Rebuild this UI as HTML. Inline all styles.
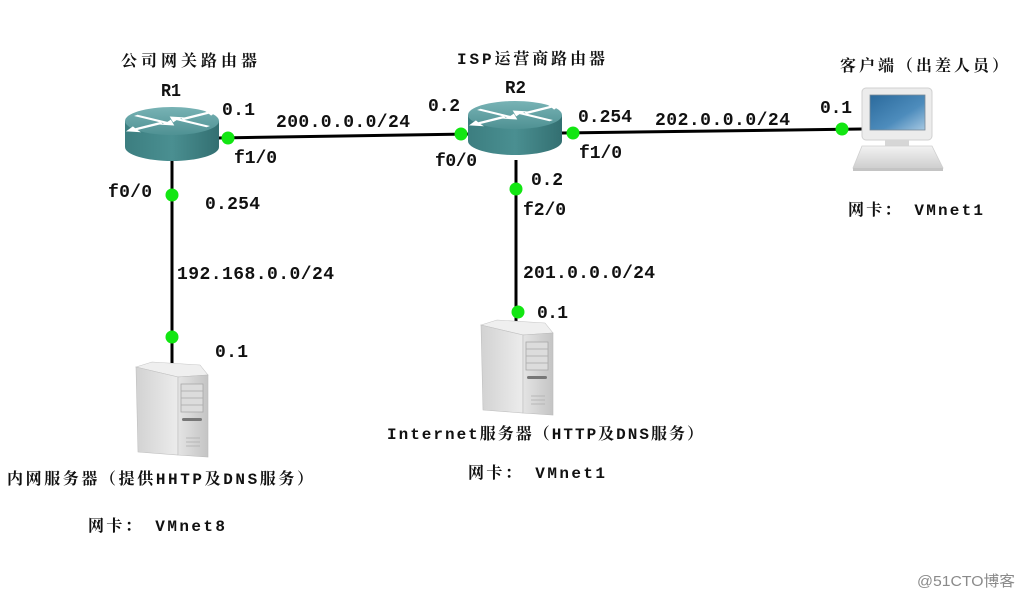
<!DOCTYPE html>
<html>
<head>
<meta charset="utf-8">
<style>
html,body{margin:0;padding:0;background:#fff;}
svg{display:block;}
.m{font-family:"Liberation Mono","Noto Serif CJK SC",monospace;font-size:18px;font-weight:bold;fill:#111;}
.c{font-family:"Liberation Mono","Noto Serif CJK SC",serif;font-size:16px;font-weight:bold;fill:#111;}
.w{font-family:"Liberation Sans","Noto Sans CJK SC",sans-serif;font-size:15px;fill:#8a8a8a;}
</style>
</head>
<body>
<svg width="1024" height="598" viewBox="0 0 1024 598" xmlns="http://www.w3.org/2000/svg">
<defs>
  <linearGradient id="rtop" x1="0" y1="0" x2="0" y2="1">
    <stop offset="0" stop-color="#78b3b5"/>
    <stop offset="1" stop-color="#4f9193"/>
  </linearGradient>
  <linearGradient id="rbody" x1="0" y1="0" x2="1" y2="0">
    <stop offset="0" stop-color="#3c7e80"/>
    <stop offset="0.5" stop-color="#4a8f91"/>
    <stop offset="1" stop-color="#336f71"/>
  </linearGradient>
  <linearGradient id="sside" x1="0" y1="0" x2="1" y2="0">
    <stop offset="0" stop-color="#d2d2d2"/>
    <stop offset="1" stop-color="#ececec"/>
  </linearGradient>
  <linearGradient id="sfront" x1="0" y1="0" x2="1" y2="0">
    <stop offset="0" stop-color="#e4e4e4"/>
    <stop offset="1" stop-color="#c4c4c4"/>
  </linearGradient>
  <linearGradient id="scr" x1="0" y1="0" x2="1" y2="1">
    <stop offset="0" stop-color="#2b6a9c"/>
    <stop offset="0.6" stop-color="#4d8cbc"/>
    <stop offset="1" stop-color="#a6c8e2"/>
  </linearGradient>
  <linearGradient id="pcbase" x1="0" y1="0" x2="0" y2="1">
    <stop offset="0" stop-color="#f2f2f2"/>
    <stop offset="1" stop-color="#cfcfcf"/>
  </linearGradient>
  <g id="router">
    <path d="M-47,0 L-47,26 A47,14 0 0 0 47,26 L47,0 Z" fill="url(#rbody)"/>
    <ellipse cx="0" cy="0" rx="47" ry="14" fill="url(#rtop)"/>
    <g transform="scale(1.15,0.45)" fill="#fff" stroke="none">
      <path d="M-30,-14 L-4,2 L-1,-3 L2,10 L-11,8 L-7,5 L-33,-11 Z"/>
      <path d="M30,14 L4,-2 L1,3 L-2,-10 L11,-8 L7,-5 L33,11 Z"/>
      <path d="M8,-6 L30,-20 L27,-25 L40,-23 L34,-12 L32,-16 L10,-2 Z"/>
      <path d="M-8,6 L-30,20 L-27,25 L-40,23 L-34,12 L-32,16 L-10,2 Z"/>
    </g>
  </g>
  <g id="server">
    <path d="M0,5 L16,0 L64,3 L72,13 L72,95 L42,93 L2,90 Z" fill="#d8d8d8"/>
    <path d="M0,5 L16,0 L64,3 L72,13 L42,15 Z" fill="#efefef" stroke="#c8c8c8" stroke-width="0.6"/>
    <path d="M0,5 L42,15 L42,93 L2,90 Z" fill="url(#sside)" stroke="#c0c0c0" stroke-width="0.6"/>
    <path d="M42,15 L72,13 L72,95 L42,93 Z" fill="url(#sfront)" stroke="#bcbcbc" stroke-width="0.6"/>
    <g stroke="#a8a8a8" stroke-width="0.8" fill="#dcdcdc">
      <rect x="45" y="22" width="22" height="28"/>
      <line x1="45" y1="29" x2="67" y2="29"/>
      <line x1="45" y1="36" x2="67" y2="36"/>
      <line x1="45" y1="43" x2="67" y2="43"/>
    </g>
    <rect x="46" y="56" width="20" height="3" rx="1.5" fill="#777"/>
    <g stroke="#b0b0b0" stroke-width="0.8">
      <line x1="50" y1="76" x2="64" y2="76"/>
      <line x1="50" y1="80" x2="64" y2="80"/>
      <line x1="50" y1="84" x2="64" y2="84"/>
    </g>
  </g>
</defs>

<!-- connectors -->
<g stroke="#000" stroke-width="3" fill="none">
  <line x1="218" y1="138" x2="470" y2="134"/>
  <line x1="562" y1="133" x2="862" y2="129"/>
  <line x1="172" y1="158" x2="172" y2="366"/>
  <line x1="516" y1="160" x2="516" y2="324"/>
</g>

<!-- routers -->
<use href="#router" x="172" y="121"/>
<use href="#router" x="515" y="115"/>

<!-- servers -->
<use href="#server" x="136" y="362"/>
<use href="#server" x="481" y="320"/>

<!-- PC -->
<g>
  <rect x="862" y="88" width="70" height="52" rx="4" fill="#ececec" stroke="#d0d0d0" stroke-width="1"/>
  <rect x="870" y="95" width="55" height="35" fill="url(#scr)" stroke="#7a8a96" stroke-width="0.8"/>
  <rect x="885" y="140" width="24" height="6" fill="#d6d6d6"/>
  <path d="M862,146 L932,146 L943,168 L853,168 Z" fill="url(#pcbase)" stroke="#cfcfcf" stroke-width="0.8"/>
  <path d="M853,168 L943,168 L943,171 L853,171 Z" fill="#c4c4c4"/>
</g>

<!-- green dots -->
<g fill="#12e612">
  <circle cx="228" cy="138" r="6.5"/>
  <circle cx="461" cy="134" r="6.5"/>
  <circle cx="573" cy="133" r="6.5"/>
  <circle cx="842" cy="129" r="6.5"/>
  <circle cx="172" cy="195" r="6.5"/>
  <circle cx="172" cy="337" r="6.5"/>
  <circle cx="516" cy="189" r="6.5"/>
  <circle cx="518" cy="312" r="6.5"/>
</g>

<!-- labels -->
<text class="c" x="121" y="66" textLength="136" lengthAdjust="spacing">公司网关路由器</text>
<text class="m" x="161" y="96" textLength="20" lengthAdjust="spacingAndGlyphs">R1</text>
<text class="m" x="222" y="115" textLength="33" lengthAdjust="spacing">0.1</text>
<text class="m" x="276" y="127" textLength="134" lengthAdjust="spacing">200.0.0.0/24</text>
<text class="m" x="234" y="163" textLength="43" lengthAdjust="spacing">f1/0</text>
<text class="m" x="108" y="197" textLength="44" lengthAdjust="spacing">f0/0</text>
<text class="m" x="205" y="209" textLength="55" lengthAdjust="spacing">0.254</text>
<text class="m" x="177" y="279" textLength="157" lengthAdjust="spacing">192.168.0.0/24</text>
<text class="m" x="215" y="357" textLength="33" lengthAdjust="spacing">0.1</text>
<text class="c" x="7" y="484" textLength="306" lengthAdjust="spacing">内网服务器（提供HHTP及DNS服务）</text>
<text class="c" x="88" y="531" textLength="137" lengthAdjust="spacing">网卡： VMnet8</text>

<text class="c" x="457" y="64" textLength="148" lengthAdjust="spacing">ISP运营商路由器</text>
<text class="m" x="505" y="93" textLength="21" lengthAdjust="spacingAndGlyphs">R2</text>
<text class="m" x="428" y="111" textLength="32" lengthAdjust="spacing">0.2</text>
<text class="m" x="578" y="122" textLength="54" lengthAdjust="spacing">0.254</text>
<text class="m" x="655" y="125" textLength="135" lengthAdjust="spacing">202.0.0.0/24</text>
<text class="m" x="435" y="166" textLength="42" lengthAdjust="spacing">f0/0</text>
<text class="m" x="579" y="158" textLength="43" lengthAdjust="spacing">f1/0</text>
<text class="m" x="531" y="185" textLength="32" lengthAdjust="spacing">0.2</text>
<text class="m" x="523" y="215" textLength="43" lengthAdjust="spacing">f2/0</text>
<text class="m" x="523" y="278" textLength="132" lengthAdjust="spacing">201.0.0.0/24</text>
<text class="m" x="537" y="318" textLength="31" lengthAdjust="spacing">0.1</text>
<text class="c" x="387" y="439" textLength="316" lengthAdjust="spacing">Internet服务器（HTTP及DNS服务）</text>
<text class="c" x="468" y="478" textLength="137" lengthAdjust="spacing">网卡： VMnet1</text>

<text class="c" x="840" y="71" textLength="168" lengthAdjust="spacing">客户端（出差人员）</text>
<text class="m" x="820" y="113" textLength="32" lengthAdjust="spacing">0.1</text>
<text class="c" x="848" y="215" textLength="135" lengthAdjust="spacing">网卡： VMnet1</text>

<text class="w" x="917" y="586" textLength="98" lengthAdjust="spacingAndGlyphs">@51CTO博客</text>
</svg>
</body>
</html>
